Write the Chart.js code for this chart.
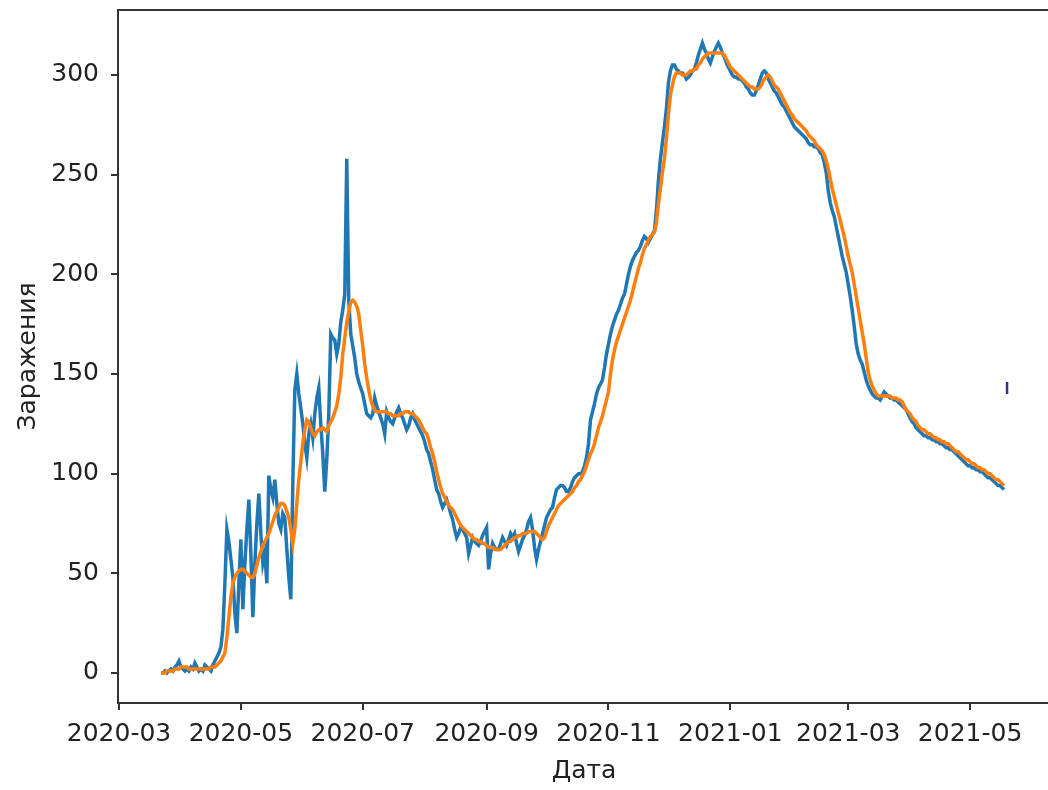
<!DOCTYPE html>
<html>
<head>
<meta charset="utf-8">
<script src="https://cdn.jsdelivr.net/npm/chart.js"></script>
<style>
  html, body { margin: 0; padding: 0; background: #fff; overflow: hidden; }
</style>
</head>
<body>
<canvas id="myChart" width="1050" height="790"></canvas>
<script>
// days are counted from 2020-03-01, first value is 2020-03-22
const firstDay = 21;

// daily infections (blue)
const daily = [
  0, 0, 1, 0, 1, 2, 1, 3, 4, 6,
  3, 2, 1, 2, 1, 3, 2, 5, 3, 1,
  2, 1, 4, 3, 2, 1, 4, 6, 8, 10,
  13, 22, 45, 72, 66, 57, 48, 30, 20, 45,
  67, 32, 55, 72, 87, 60, 28, 55, 75, 90,
  70, 55, 60, 45, 99, 92, 88, 97, 85, 75,
  72, 80, 78, 62, 48, 37, 95, 142, 150, 140,
  133, 125, 115, 108, 120, 125, 118, 130, 138, 143,
  125, 110, 91, 107, 130, 170, 168, 167, 160, 165,
  176, 182, 190, 258, 187, 170, 164, 158, 150, 146,
  143, 140, 135, 130, 129, 128, 130, 138, 134, 131,
  128, 125, 120, 131, 128, 126, 125, 128, 131, 133,
  130, 128, 125, 122, 124, 128, 130, 127, 125, 123,
  121, 119, 116, 112, 110, 106, 102, 97, 92, 90,
  86, 83, 85, 87, 84, 80, 77, 72, 68, 70,
  73, 72, 70, 68, 60, 64, 68, 66, 65, 64,
  66, 69, 71, 73, 52, 60, 65, 63, 62, 62,
  65, 68, 66, 64, 67, 70, 68, 70, 65, 61,
  64, 67, 69, 72, 76, 78, 72, 63, 57, 62,
  66, 70, 74, 78, 80, 82, 83, 88, 92, 93,
  94, 94, 93, 91, 91, 93, 96, 98, 99, 100,
  100, 101, 104, 108, 115, 127, 131, 135, 140, 143,
  145, 147, 153, 160, 165, 170, 174, 177, 180, 182,
  185, 188, 190, 195, 200, 204, 207, 209, 211, 212,
  214, 217, 219, 218, 216, 218, 220, 222, 232, 247,
  258, 266, 274, 283, 296, 302, 305, 305, 303, 302,
  301, 301, 300, 298, 299, 300, 302, 303, 306, 310,
  313, 316, 313, 311, 308, 306, 309, 312, 314, 316,
  314, 311, 309, 306, 304, 302, 300, 299, 299, 298,
  298, 297, 296, 294, 293, 291, 290, 290, 292, 295,
  298, 301, 302, 301, 298, 296, 294, 292, 291, 289,
  287, 285, 284, 282, 280, 278, 276, 274, 273, 272,
  271, 270, 269, 268, 266, 265, 265, 264, 264, 263,
  261, 260, 256, 251, 242, 236, 232, 229, 224, 219,
  214, 209, 205, 201, 195, 189, 182, 174, 165, 160,
  157, 155, 151, 147, 144, 142, 140, 139, 138, 138,
  137, 139, 141, 140, 139, 138, 138, 137, 137, 136,
  135, 134, 133, 132, 130, 128, 126, 125, 123, 122,
  121, 120, 119, 119, 118, 118, 117, 117, 116, 116,
  115, 115, 114, 113, 113, 112, 112, 111, 110, 109,
  108, 107, 106, 105, 104, 104, 103, 103, 102, 102,
  101, 101, 100, 99, 98, 98, 97, 96, 95, 94,
  94, 93, 92
];

// smoothed infections (orange)
const smoothed = [
  0, 0, 0, 1, 1, 1, 1, 2, 2, 2,
  3, 3, 3, 3, 2, 2, 2, 2, 2, 2,
  2, 2, 2, 2, 2, 3, 3, 3, 4, 5,
  6, 8, 10, 18, 28, 38, 45, 48, 50, 51,
  52, 52, 51, 50, 49, 48, 48, 50, 54, 58,
  61, 64, 66, 68, 70, 73, 76, 79, 81, 83,
  85, 85, 84, 81, 78, 72, 65, 72, 85, 97,
  106, 115, 122, 127, 126, 123, 120, 119, 121, 122,
  122, 123, 122, 121, 124, 126, 128, 131, 134, 140,
  148, 160, 168, 176, 181, 186, 187, 186, 184, 180,
  172, 164, 155, 148, 142, 137, 134, 132, 131, 131,
  131, 131, 131, 131, 130, 130, 129, 129, 129, 129,
  130, 130, 131, 131, 131, 130, 130, 129, 128, 127,
  125, 123, 121, 120, 117, 113, 110, 106, 101, 97,
  93, 90, 88, 86, 84, 83, 82, 80, 78, 76,
  74, 73, 72, 71, 70, 69, 68, 67, 67, 66,
  66, 65, 65, 64, 63, 63, 63, 62, 62, 62,
  62, 63, 64, 65, 66, 66, 67, 68, 68, 69,
  69, 70, 70, 70, 71, 71, 71, 71, 70, 69,
  68, 67, 68, 71, 74, 76, 78, 80, 82, 84,
  85, 86, 87, 88, 89, 90, 91, 93, 94, 96,
  97, 99, 101, 104, 107, 110, 112, 115, 119, 123,
  126, 129, 133, 137, 141, 150, 157, 162, 166, 169,
  172, 175, 178, 181, 184, 187, 191, 195, 199, 203,
  206, 210, 213, 215, 217, 219, 220, 221, 226, 235,
  243, 251, 258, 268, 280, 290, 295, 299, 301, 301,
  301, 300, 300, 300, 301, 302, 302, 303, 303, 305,
  306, 308, 309, 310, 311, 311, 311, 311, 311, 311,
  311, 311, 310, 308, 306, 304, 303, 302, 301, 300,
  299, 298, 297, 296, 295, 294, 294, 293, 293, 293,
  294, 296, 298, 299, 300, 299, 297, 295, 294, 293,
  291, 289, 287, 285, 283, 281, 280, 278, 277, 276,
  275, 274, 273, 272, 270, 269, 268, 267, 265, 264,
  263, 262, 260, 257, 253, 248, 243, 239, 235, 231,
  227, 223, 219, 214, 209, 205, 201, 195, 189, 183,
  177, 171, 165, 158, 151, 147, 144, 142, 140, 139,
  139, 139, 139, 139, 139, 139, 138, 138, 138, 137,
  137, 136, 134, 132, 131, 130, 128, 127, 126, 124,
  123, 122, 122, 121, 120, 120, 119, 118, 118, 117,
  117, 116, 116, 115, 115, 114, 113, 112, 111, 111,
  110, 109, 108, 107, 107, 106, 105, 105, 104, 103,
  103, 102, 102, 101, 100, 100, 99, 98, 97, 97,
  96, 95, 94
];

// stray mark at the right edge
const markDay = [444.5];
const markValue = [143];

const xTickLabels = ['2020-03', '2020-05', '2020-07', '2020-09', '2020-11', '2021-01', '2021-03', '2021-05'];
const yTickValues = [0, 50, 100, 150, 200, 250, 300];

const dayMs = 86400000;
const origin = Date.UTC(2020, 2, 1);
function monthToDay(s) {
  const p = s.split('-');
  return Math.round((Date.UTC(+p[0], +p[1] - 1, 1) - origin) / dayMs);
}
const xTickDays = xTickLabels.map(monthToDay);

const toPoints = arr => arr.map((v, i) => ({x: firstDay + i, y: v}));

const boxPlugin = {
  id: 'box',
  afterDraw(chart) {
    const a = chart.chartArea;
    const ctx = chart.ctx;
    ctx.save();
    ctx.strokeStyle = '#333';
    ctx.lineWidth = 2;
    ctx.strokeRect(a.left, a.top, a.right - a.left, a.bottom - a.top);
    ctx.restore();
  }
};

const fontFamily = "'DejaVu Sans', sans-serif";

new Chart(document.getElementById('myChart'), {
  type: 'line',
  data: {
    datasets: [
      {
        label: 'smoothed',
        data: toPoints(smoothed),
        borderColor: '#ff7f0e',
        borderWidth: 3.5,
        pointRadius: 0,
        tension: 0,
        order: 0
      },
      {
        label: 'daily',
        data: toPoints(daily),
        borderColor: '#1f77b4',
        borderWidth: 3.5,
        pointRadius: 0,
        tension: 0,
        order: 1
      },
      {
        label: 'mark',
        data: markDay.map((d, i) => ({x: d, y: markValue[i]})),
        showLine: false,
        pointStyle: 'line',
        rotation: 90,
        radius: 6,
        borderColor: '#3d2e8c',
        borderWidth: 2.5,
        order: 2
      }
    ]
  },
  options: {
    responsive: false,
    animation: false,
    devicePixelRatio: 1,
    layout: { autoPadding: false, padding: { left: 0, top: 10, right: 0, bottom: 0 } },
    plugins: { legend: { display: false }, tooltip: { enabled: false } },
    scales: {
      x: {
        type: 'linear',
        min: -0.5,
        max: 466,
        afterFit(s) { s.height = 87; s.paddingLeft = 0; s.paddingRight = 0; },
        afterBuildTicks(s) { s.ticks = xTickDays.map(v => ({value: v})); },
        grid: { drawOnChartArea: false, tickLength: 7, color: '#333', lineWidth: 2 },
        border: { display: true, color: '#333', width: 2 },
        ticks: {
          autoSkip: false,
          maxRotation: 0,
          padding: 9,
          color: '#222',
          font: { family: fontFamily, size: 25 },
          callback: v => xTickLabels[xTickDays.indexOf(v)] || ''
        },
        title: {
          display: true,
          text: 'Дата',
          color: '#222',
          font: { family: fontFamily, size: 25 },
          padding: { top: 0, bottom: 4 }
        }
      },
      y: {
        min: -15.05,
        max: 332.6,
        afterFit(s) { s.width = 118; s.paddingTop = 0; s.paddingBottom = 0; },
        afterBuildTicks(s) { s.ticks = yTickValues.map(v => ({value: v})); },
        grid: { drawOnChartArea: false, tickLength: 7, color: '#333', lineWidth: 2 },
        border: { display: true, color: '#333', width: 2 },
        ticks: {
          padding: 12,
          color: '#222',
          font: { family: fontFamily, size: 25 }
        },
        title: {
          display: true,
          text: 'Заражения',
          color: '#222',
          font: { family: fontFamily, size: 25 },
          padding: { top: 13, bottom: 0 }
        }
      }
    }
  },
  plugins: [boxPlugin]
});
</script>
</body>
</html>
